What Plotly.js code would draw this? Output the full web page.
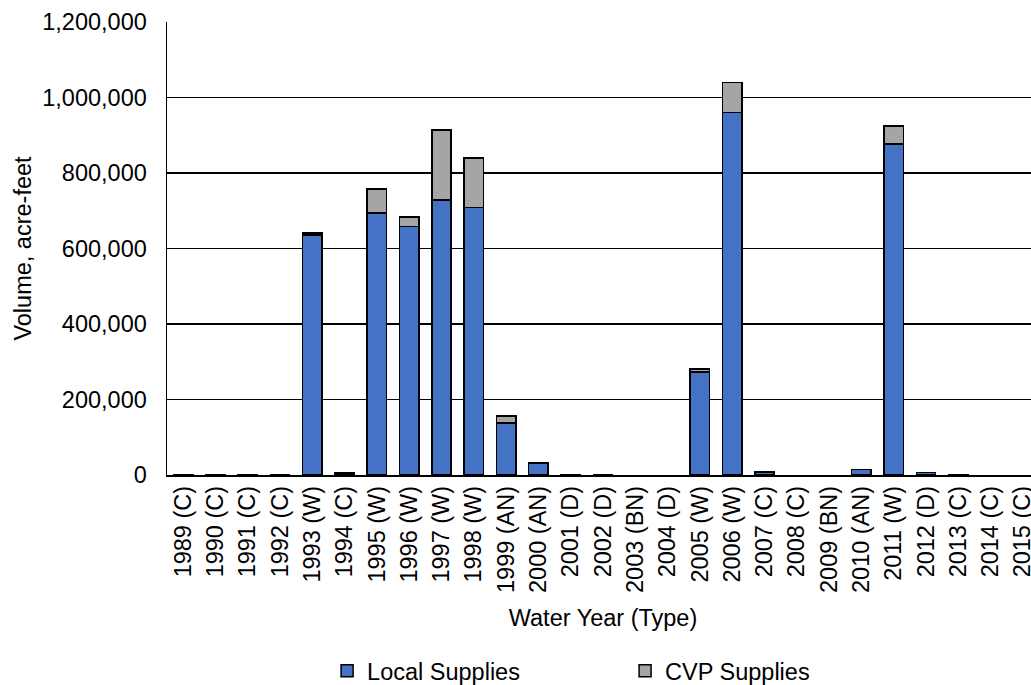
<!DOCTYPE html>
<html>
<head>
<meta charset="utf-8">
<script src="https://cdn.plot.ly/plotly-3.0.1.min.js"></script>
<style>
html,body{margin:0;padding:0;overflow:hidden;background:#fff;}
#chart{width:1045px;height:685px;}
</style>
</head>
<body>
<div id="chart"></div>
<script>
const categories = ["1989 (C)","1990 (C)","1991 (C)","1992 (C)","1993 (W)","1994 (C)","1995 (W)","1996 (W)","1997 (W)","1998 (W)","1999 (AN)","2000 (AN)","2001 (D)","2002 (D)","2003 (BN)","2004 (D)","2005 (W)","2006 (W)","2007 (C)","2008 (C)","2009 (BN)","2010 (AN)","2011 (W)","2012 (D)","2013 (C)","2014 (C)","2015 (C)"];
const localSupplies = [2000,2000,2000,2000,636000,5000,694000,658000,729000,709000,138000,30000,2000,2000,0,0,273000,960000,8000,0,0,14000,877000,7000,2000,0,0];
const cvpSupplies = [0,0,0,0,5000,0,64000,26000,185000,131000,18000,3000,0,0,0,0,8000,80000,0,0,0,0,48000,0,0,0,0];
const yTickVals = [0,200000,400000,600000,800000,1000000,1200000];
const yTickText = ["0","200,000","400,000","600,000","800,000","1,000,000","1,200,000"];

const FS = 23.5;
const font = {family:"Liberation Sans, Arial, sans-serif", size:FS, color:"#000"};
// zero-volume years draw no bar at all
const nz = v => v.map(d => d > 0 ? d : null);

const traces = [
  {type:"bar", name:"Local Supplies", x:categories, y:nz(localSupplies),
   marker:{color:"#4472C4", line:{color:"#000", width:1.5}}},
  {type:"bar", name:"CVP Supplies", x:categories, y:nz(cvpSupplies),
   marker:{color:"#A5A5A5", line:{color:"#000", width:1.5}}}
];

const layout = {
  width:1045, height:685,
  margin:{l:167, r:6, t:22, b:210},
  barmode:"stack", bargap:0.4,
  paper_bgcolor:"#fff", plot_bgcolor:"#fff",
  font:font,
  showlegend:true,
  legend:{orientation:"h", xref:"container", yref:"container", x:0.313, xanchor:"left", y:0.0526, yanchor:"top",
          entrywidth:253, entrywidthmode:"pixels", itemwidth:30, font:{size:FS}, traceorder:"normal"},
  xaxis:{type:"category", automargin:false, tickangle:-90, showgrid:false, showline:true, linecolor:"#000", linewidth:1.5,
         ticks:"", tickfont:{size:FS},
         title:{text:"Water Year (Type)", font:{size:FS}, standoff:17}},
  yaxis:{range:[0,1200000], automargin:false, tickvals:yTickVals, ticktext:yTickText, showgrid:true, gridcolor:"#000", gridwidth:1.5,
         showline:true, linecolor:"#000", linewidth:1.5, zeroline:false,
         ticks:"outside", ticklen:14, tickcolor:"rgba(0,0,0,0)", tickfont:{size:FS},
         title:{text:"Volume, acre-feet", font:{size:FS}, standoff:4}}
};

Plotly.newPlot("chart", traces, layout, {displayModeBar:false, staticPlot:true});
</script>
</body>
</html>
